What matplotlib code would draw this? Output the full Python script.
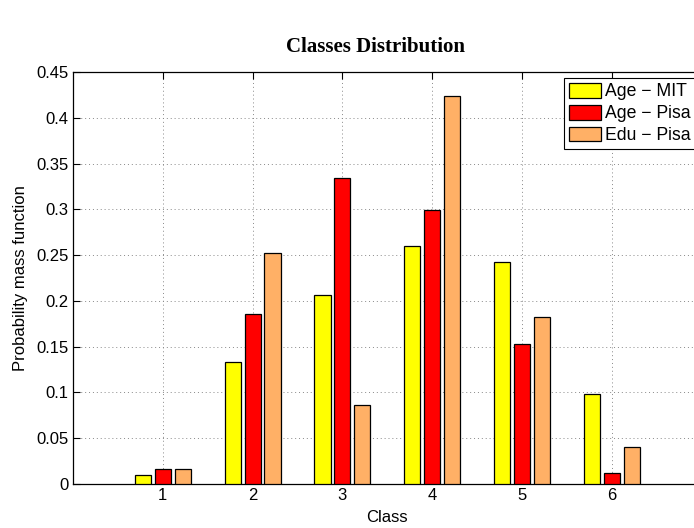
import matplotlib.pyplot as plt
import numpy as np

classes = [1, 2, 3, 4, 5, 6]
age_mit = [0.010, 0.133, 0.206, 0.260, 0.242, 0.098]
age_pisa = [0.016, 0.186, 0.334, 0.299, 0.153, 0.012]
edu_pisa = [0.016, 0.252, 0.086, 0.424, 0.182, 0.040]
labels = ["Age \u2212 MIT", "Age \u2212 Pisa", "Edu \u2212 Pisa"]
colors = ["#ffff00", "#ff0000", "#ffb066"]

plt.rcParams["font.family"] = ["Liberation Sans", "DejaVu Sans"]

fig = plt.figure(figsize=(6.94, 5.28), dpi=100)
W, H = 694, 528
left, right, top, bottom = 73, 701.6, 72, 484
ax = fig.add_axes([left / W, 1 - bottom / H, (right - left) / W, (bottom - top) / H])

x = np.array(classes, dtype=float)
width = 0.18
offsets = [-0.222, 0.0, 0.222]
for vals, off, c, lab in zip([age_mit, age_pisa, edu_pisa], offsets, colors, labels):
    ax.bar(x + off, vals, width=width, color=c, edgecolor="black",
           linewidth=0.9, label=lab, zorder=3)

ax.set_xlim(0, 7)
ax.set_ylim(0, 0.45)
ax.set_xticks(classes)
ax.set_yticks(np.arange(0, 0.451, 0.05))
ax.set_yticklabels(["0", "0.05", "0.1", "0.15", "0.2", "0.25", "0.3", "0.35", "0.4", "0.45"])
ax.tick_params(direction="in", top=True, right=True, labelsize=12, length=5, width=0.8, pad=3)
ax.grid(True, linestyle=(0, (1, 3)), color="#888888", linewidth=0.7, zorder=0)
for s in ax.spines.values():
    s.set_linewidth(0.9)

ax.set_xlabel("Class", fontsize=12, labelpad=5)
ax.set_ylabel("Probability mass function", fontsize=12, labelpad=6)

fig.text(375 / W, 1 - 47 / H, "Classes Distribution", ha="center", va="center",
         fontsize=15, fontweight="bold", family=["Liberation Serif", "DejaVu Serif"])

fs = 12.7
fpx = fs * 100 / 72
leg = ax.legend(loc="upper left", bbox_to_anchor=(564 / W, 1 - 77.7 / H),
                bbox_transform=fig.transFigure, fontsize=fs, frameon=True,
                fancybox=False, edgecolor="black", framealpha=1,
                borderpad=0.3, handlelength=32 / fpx, handleheight=16 / fpx,
                handletextpad=0.2, labelspacing=0.25, borderaxespad=0)
leg.get_frame().set_linewidth(0.8)

fig.savefig("out.png", dpi=100)
